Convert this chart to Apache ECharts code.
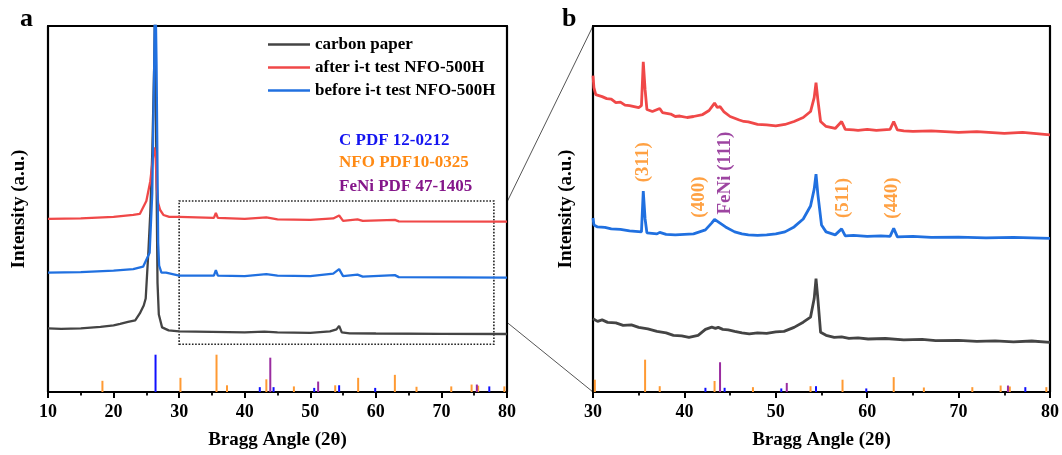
<!DOCTYPE html>
<html><head><meta charset="utf-8">
<script src="https://cdn.jsdelivr.net/npm/echarts@6/dist/echarts.min.js"></script>
<style>html,body{margin:0;padding:0;background:#fff}#c{width:1062px;height:455px}</style>
</head><body><div id="c"></div>
<script>
// ---------- data (intensity in arbitrary, offset units) ----------
const carbonA = [[10,64],[12,63.5],[15,64],[18,65.5],[20,67],[21,68.5],[22.2,70.4],[23.3,72],[24.0,79],[24.6,87],[24.9,94],[25.3,140],[25.6,180],[25.9,240],[26.2,330],[26.35,400],[26.5,250],[26.7,110],[26.9,78],[27.4,65],[28.4,62],[30,61],[35,60.5],[40,60],[43,60.8],[45,60],[50,59.5],[53,61],[54.0,63],[54.4,66.5],[54.8,60],[56,59],[60,58.8],[70,58.5],[80,58.3]];
const afterA = [[10,174],[15,174.5],[20,176],[23,178],[24.0,179],[25.0,192],[25.6,212],[26.0,235],[26.2,246],[26.4,238],[26.6,205],[26.8,190],[27.1,183],[27.6,178],[28.5,176],[30,176],[35.3,175],[35.6,180],[35.9,175],[40,174],[43.3,175.5],[45,173.5],[50,173],[53.5,174.5],[54.4,177.5],[55,172],[57.2,173.5],[58,172],[62.9,173],[63.5,171.5],[80,171.3]];
const beforeA = [[10,120],[15,120.5],[20,122],[23,123.5],[24.5,126],[25.5,140],[25.9,200],[26.2,330],[26.35,420],[26.55,330],[26.8,150],[26.95,127],[27.3,120],[28,120],[30,117],[35.3,117],[35.6,122.5],[35.9,117],[40,116.5],[43.3,118.5],[45,117],[50,116.5],[53.5,119],[54.4,123.5],[55,116.5],[57.2,118],[58,116],[62.9,117.5],[63.5,115.5],[80,115]];

const carbonB = [[30.0,73.6],[30.5,71],[31,72.5],[31.6,70],[32.5,69.5],[33.3,67],[34.2,67.5],[35,65],[36,63.5],[37,61],[38,59.5],[38.8,57],[39.7,56.5],[40.5,55],[41.5,57],[42.3,63],[43,65.2],[43.4,64],[43.7,65],[44.2,63],[44.8,62.5],[45.5,61],[46.3,59.5],[47.1,58.4],[48,59.5],[49,59],[50,60.5],[50.9,61],[52,65],[53,70.2],[53.8,75.3],[54.2,94],[54.4,114],[54.6,94],[54.9,60],[55.5,57],[56.4,55],[57.2,55.5],[58,54],[59,54.5],[60.1,53.3],[62,53.8],[64,52.5],[66,53],[67.5,51.6],[70,52],[72,51],[74,51.5],[76,50.5],[78,51.3],[80,50]];
const afterB = [[30.0,318],[30.1,306],[30.3,299],[31,297],[31.5,295],[32,294.5],[32.5,291],[33,291.5],[33.5,288.5],[34,288],[34.5,287],[35,286],[35.3,288],[35.5,332],[35.7,304],[35.9,284],[36.5,282],[37.3,285],[37.6,281],[38.5,279.5],[39,277],[39.5,277.5],[40.3,276],[41,277],[42,279],[42.7,283],[43.3,290.5],[43.6,286],[43.9,287],[44.3,282],[45,277],[46,273.5],[46.5,272],[47,271.5],[48,269],[49,268.5],[50,267.5],[51,269],[52,272],[53,276],[53.8,282],[54.2,296],[54.4,311],[54.6,294],[54.9,272],[55.5,267],[56.5,265],[57.2,272],[57.6,264],[58.5,263.5],[59,263],[60,264],[61,263],[62.5,264],[62.9,272],[63.3,263.5],[64,262.5],[65,262],[67,262.5],[70,261],[72,261.8],[75,260],[77,261],[80,258.5]];
const beforeB = [[30.0,175],[30.1,168],[30.5,166],[31.3,165.5],[32,164],[33,163.5],[34,162],[35.3,161],[35.5,202],[35.7,174],[35.9,160],[37,159],[37.3,160.5],[38,158.5],[39,158],[40,158.5],[41,159],[42.3,163],[43.0,170],[43.3,173.5],[43.7,171],[44.5,166],[45.5,161],[46.3,159],[47,158],[48,157.5],[49,158],[50,159],[51,161],[52,166],[53,174],[53.8,187],[54.2,204],[54.4,219],[54.6,199],[55,168],[55.5,161],[56.5,158],[57.2,164],[57.6,157],[58.5,157.5],[60,156.5],[61.5,157],[62.5,156.5],[62.9,164.5],[63.3,156],[65,156.5],[67,155.5],[70,155.8],[73,155],[76,155.5],[80,154.5]];

// reference patterns: [2theta, relative intensity]
const nfoSticks = [[18.3,30],[30.2,38],[35.7,100],[37.3,18],[43.3,34],[47.5,15],[53.8,18],[57.3,38],[62.9,46],[66.2,14],[71.5,15],[74.6,20],[75.6,17],[79.6,15]];
const cSticks = [[26.4,100],[42.3,13],[44.4,13],[50.6,11],[54.4,18],[59.9,11],[77.3,15]];
const feniSticks = [[43.9,92],[51.2,28],[75.4,20]];

const ticksA = [10,20,30,40,50,60,70,80];
const ticksB = [30,40,50,60,70,80];
const zoomBox = [30, 78, 48, 192];         // x1, x2, y1, y2 on panel a
const peakLabels = [
  ['(311)', 35.53, 231, 'orange'],
  ['(400)', 41.65, 196, 'orange'],
  ['FeNi (111)', 44.5, 220, 'purple'],
  ['(511)', 57.4, 195, 'orange'],
  ['(440)', 62.7, 195, 'orange']
];
const legendNames = ['carbon paper','after i-t test NFO-500H','before i-t test NFO-500H'];
const refNames = ['C PDF 12-0212','NFO PDF10-0325','FeNi PDF 47-1405'];

// ---------- styles ----------
const FONT = '"Liberation Serif","Times New Roman",serif';
const COL = {black:'#444444', red:'#f04848', blue:'#2070e0', cStick:'#1010ff', nfo:'#ff9a33', feni:'#9a2ca0',
             orangeTxt:'#ff8a14', purpleTxt:'#85168a', blueTxt:'#1414f0'};

function xAx(grid, min, max, bottom, ticks){
  const base = {gridIndex:grid, type:'value', min:min, max:max, interval:10,
    axisLine:{show:true, onZero:false, lineStyle:{color:'#000', width:2.2}},
    splitLine:{show:false}, minorSplitLine:{show:false}};
  if(bottom){
    Object.assign(base, {position:'bottom',
      axisTick:{show:true, inside:false, length:6, lineStyle:{color:'#000', width:2}},
      minorTick:{show:true, splitNumber:2, length:3.5, lineStyle:{color:'#000', width:1.8}},
      axisLabel:{show:true, margin:11, color:'#000', fontFamily:FONT, fontWeight:'bold', fontSize:18,
        formatter:v=>ticks.indexOf(v)>=0 ? String(v) : ''},
      name:'Bragg Angle (2θ)', nameLocation:'middle', nameGap:39,
      nameTextStyle:{color:'#000', fontFamily:FONT, fontWeight:'bold', fontSize:19}});
  } else {
    Object.assign(base, {position:'top', axisTick:{show:false}, axisLabel:{show:false}});
  }
  return base;
}
function yAx(grid, max, left, nameGap){
  const base = {gridIndex:grid, type:'value', min:0, max:max,
    axisLine:{show:true, onZero:false, lineStyle:{color:'#000', width:2.2}},
    axisTick:{show:false}, axisLabel:{show:false}, splitLine:{show:false}, position: left?'left':'right'};
  if(left){
    Object.assign(base, {name:'Intensity (a.u.)', nameLocation:'middle', nameGap:nameGap,
      nameTextStyle:{color:'#000', fontFamily:FONT, fontWeight:'bold', fontSize:19}});
  }
  return base;
}
function lineS(name, data, color, xi, yi, w, extra){
  return Object.assign({type:'line', name:name, data:data, xAxisIndex:xi, yAxisIndex:yi,
    symbol:'none', showSymbol:false, lineStyle:{color:color, width:w}, itemStyle:{color:color},
    z:3, animation:false, silent:true}, extra||{});
}
function barS(name, data, color, xi, yi){
  return {type:'bar', name:name, data:data, xAxisIndex:xi, yAxisIndex:yi, barWidth:2, barGap:'-100%',
    itemStyle:{color:color}, animation:false, silent:true, z:2};
}

const txtColor = {orange:COL.orangeTxt, purple:COL.purpleTxt};

const chart = echarts.init(document.getElementById('c'), null, {renderer:'canvas'});
const option = {
  backgroundColor:'#fff',
  animation:false,
  grid:[{left:48, top:26, width:459, height:368}, {left:593, top:26, width:458, height:368}],
  xAxis:[xAx(0,10,80,true,ticksA), xAx(0,10,80,false), xAx(1,30,80,true,ticksB), xAx(1,30,80,false)],
  yAxis:[yAx(0,368,true,19), yAx(0,981,false), yAx(1,368,true,17), yAx(1,1132,false)],
  legend:{data:legendNames, orient:'vertical', left:263, top:31, icon:'rect', itemWidth:42, itemHeight:2.5, itemGap:6,
    selectedMode:false,
    textStyle:{color:'#000', fontFamily:FONT, fontWeight:'bold', fontSize:17}},
  series:[
    barS('C', cSticks, COL.cStick, 0, 1),
    barS('NFO', nfoSticks, COL.nfo, 0, 1),
    barS('FeNi', feniSticks, COL.feni, 0, 1),
    lineS(legendNames[0], carbonA, COL.black, 0, 0, 2.3, {
      markArea:{silent:true, itemStyle:{color:'rgba(0,0,0,0)', borderColor:'#222', borderWidth:1.6, borderType:'dotted'},
        data:[[{coord:[zoomBox[0], zoomBox[2]]},{coord:[zoomBox[1], zoomBox[3]]}]]}}),
    lineS(legendNames[1], afterA, COL.red, 0, 0, 2.3),
    lineS(legendNames[2], beforeA, COL.blue, 0, 0, 2.3),
    barS('C', cSticks, COL.cStick, 2, 3),
    barS('NFO', nfoSticks, COL.nfo, 2, 3),
    barS('FeNi', feniSticks, COL.feni, 2, 3),
    lineS(legendNames[0], carbonB, COL.black, 2, 2, 2.8),
    lineS(legendNames[1], afterB, COL.red, 2, 2, 2.8),
    lineS(legendNames[2], beforeB, COL.blue, 2, 2, 2.8),
    {type:'scatter', name:'labels', xAxisIndex:2, yAxisIndex:2, symbolSize:1, itemStyle:{color:'rgba(0,0,0,0)'},
      silent:true, animation:false, z:5,
      data:peakLabels.map(p=>({name:p[0], value:[p[1],p[2]],
        label:{show:true, formatter:'{b}', position:'inside', rotate:90, color:txtColor[p[3]],
          fontFamily:FONT, fontWeight:'bold', fontSize:19}}))}
  ],
  graphic:[
    {type:'text', left:20, top:6, style:{text:'a', fill:'#000', font:'bold 26px '+FONT}},
    {type:'text', left:562, top:6, style:{text:'b', fill:'#000', font:'bold 26px '+FONT}},
    {type:'text', left:339, top:132, style:{text:refNames[0], fill:COL.blueTxt, font:'bold 17px '+FONT}},
    {type:'text', left:339, top:154, style:{text:refNames[1], fill:COL.orangeTxt, font:'bold 17px '+FONT}},
    {type:'text', left:339, top:178, style:{text:refNames[2], fill:COL.purpleTxt, font:'bold 17px '+FONT}}
  ]
};
chart.setOption(option);

// connection lines from panel a to panel b
const a1 = chart.convertToPixel({xAxisIndex:0, yAxisIndex:0}, [80, 191]);
const a2 = chart.convertToPixel({xAxisIndex:0, yAxisIndex:0}, [80, 70]);
const b1 = chart.convertToPixel({xAxisIndex:2, yAxisIndex:2}, [30, 368]);
const b2 = chart.convertToPixel({xAxisIndex:2, yAxisIndex:2}, [30, 0]);
chart.setOption({graphic: option.graphic.concat([
  {type:'line', shape:{x1:a1[0], y1:a1[1], x2:b1[0], y2:b1[1]}, style:{stroke:'#555', lineWidth:1}, silent:true},
  {type:'line', shape:{x1:a2[0], y1:a2[1], x2:b2[0], y2:b2[1]}, style:{stroke:'#555', lineWidth:1}, silent:true}
])});
</script></body></html>
